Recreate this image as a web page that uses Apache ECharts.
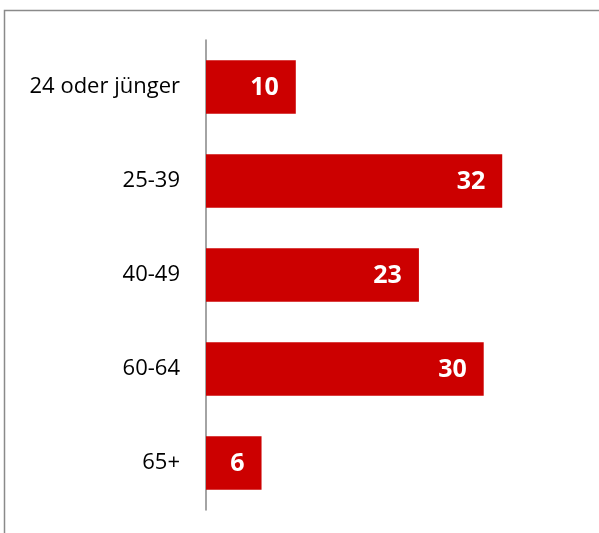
<!DOCTYPE html>
<html>
<head>
<meta charset="utf-8">
<style>html,body{margin:0;padding:0;background:#fff}#c{width:599px;height:533px}</style>
<script src="https://cdn.jsdelivr.net/npm/echarts@6/dist/echarts.min.js"></script>
</head>
<body>
<div id="c"></div>
<script>
const categories = ['24 oder jünger', '25-39', '40-49', '60-64', '65+'];
const values = [9.7, 32, 23, 30, 6];
const labels = ['10', '32', '23', '30', '6'];

const chart = echarts.init(document.getElementById('c'), null, {renderer: 'canvas'});
chart.setOption({
  animation: false,
  backgroundColor: '#fff',
  graphic: [
    {type: 'polyline', shape: {points: [[4.5, 533], [4.5, 10.5], [599, 10.5]]}, style: {stroke: '#8a8a8a', lineWidth: 1.5, fill: null}}
  ],
  grid: {left: 206, top: 40, height: 470, width: 324},
  xAxis: {type: 'value', min: 0, max: 35, show: false},
  yAxis: {
    type: 'category', data: categories, inverse: true,
    axisLine: {show: true, lineStyle: {color: '#868686', width: 1.5}},
    axisTick: {show: false},
    axisLabel: {margin: 26, fontFamily: 'Open Sans', fontSize: 22, color: '#000'}
  },
  series: [{
    type: 'bar', data: values, barWidth: '57%',
    itemStyle: {color: '#CC0000'},
    label: {
      show: true, position: 'insideRight', distance: 17, offset: [0, 1],
      formatter: p => labels[p.dataIndex],
      fontFamily: 'Open Sans', fontWeight: 'bold', fontSize: 25, color: '#fff'
    }
  }]
});
</script>
</body>
</html>
